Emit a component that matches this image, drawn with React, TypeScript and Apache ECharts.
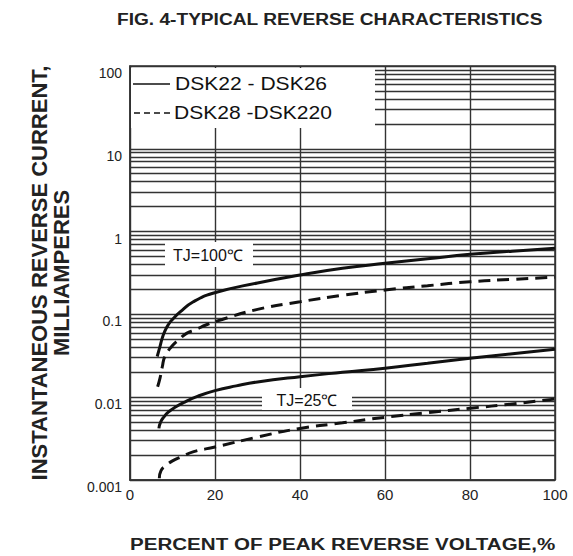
import React, { useEffect, useRef } from "react";
import * as echarts from "echarts";

const TITLE = "FIG. 4-TYPICAL REVERSE CHARACTERISTICS";
const X_NAME = "PERCENT OF PEAK REVERSE VOLTAGE,%";
const Y_NAME = "INSTANTANEOUS REVERSE CURRENT,\nMILLIAMPERES";
const LEGEND_SOLID = "DSK22 - DSK26";
const LEGEND_DASHED = "DSK28 -DSK220";
const LABEL_100 = "TJ=100℃";
const LABEL_25 = "TJ=25℃";

const SOLID_100_X = [6.4, 7.0, 7.6, 8.2, 9.0, 9.8, 11.8, 14.8, 19.5, 30, 40, 50, 60, 70, 80, 90, 100];
const SOLID_100_Y = [0.031, 0.04, 0.052, 0.063, 0.075, 0.085, 0.107, 0.141, 0.18, 0.24, 0.299, 0.36, 0.414, 0.47, 0.532, 0.58, 0.628];

const DASHED_100_X = [6.5, 7.06, 7.6, 8.2, 9.8, 11.4, 13.3, 15.3, 18, 20.4, 30, 40, 50, 60, 70, 80, 90, 100];
const DASHED_100_Y = [0.0134, 0.017, 0.0233, 0.031, 0.041, 0.049, 0.059, 0.065, 0.075, 0.083, 0.115, 0.142, 0.17, 0.197, 0.222, 0.248, 0.265, 0.281];

const SOLID_25_X = [6.8, 7.2, 8, 9, 10.5, 13, 16, 20, 25, 30, 40, 50, 60, 70, 80, 90, 100];
const SOLID_25_Y = [0.0042, 0.005, 0.0058, 0.0066, 0.0075, 0.0088, 0.0103, 0.012, 0.0137, 0.0153, 0.0177, 0.02, 0.0224, 0.0257, 0.0295, 0.0335, 0.0379];

const DASHED_25_X = [6.9, 7.3, 8.5, 10, 12, 15, 20, 30, 40, 50, 60, 70, 80, 90, 100];
const DASHED_25_Y = [0.00105, 0.0013, 0.0015, 0.0017, 0.0019, 0.0022, 0.0025, 0.0033, 0.0042, 0.0049, 0.00572, 0.0065, 0.00735, 0.0083, 0.0095];

const DECADES = [0.001, 0.01, 0.1, 1, 10];
const MINOR_STEPS = [2, 3, 4, 5, 6, 7, 8, 9];
const MINOR_GRID = DECADES.flatMap((d) => MINOR_STEPS.map((m) => +(d * m).toPrecision(3)));

const FONT = "'Liberation Sans', Arial, sans-serif";
const GRID_COLOR = "#333";

function pairs(xs: number[], ys: number[]) {
  return xs.map((x, i) => [x, ys[i]]);
}

export default function App() {
  const ref = useRef<HTMLDivElement>(null);
  useEffect(() => {
    if (!ref.current) return;
    const chart = echarts.init(ref.current, null, { renderer: "svg" });
    const curve = (name: string, data: number[][], dashed: boolean) => ({
      name,
      type: "line",
      data,
      showSymbol: false,
      smooth: 0.5,
      z: 5,
      silent: true,
      lineStyle: { color: "#111", width: 3, type: dashed ? [12, 7] : "solid" },
    });
    chart.setOption({
      animation: false,
      backgroundColor: "#fff",
      grid: {
        left: 130,
        right: 18,
        top: 66,
        bottom: 76,
        show: true,
        borderColor: GRID_COLOR,
        borderWidth: 1.5,
      },
      xAxis: {
        type: "value",
        min: 0,
        max: 100,
        interval: 20,
        axisLine: { show: true, lineStyle: { color: GRID_COLOR, width: 1.5 } },
        axisTick: { show: false },
        axisLabel: { fontFamily: FONT, fontSize: 15, color: "#222", margin: 7, verticalAlign: "top" },
        splitLine: { show: true, lineStyle: { color: GRID_COLOR, width: 1.4 } },
      },
      yAxis: {
        type: "log",
        logBase: 10,
        min: 0.001,
        max: 100,
        name: Y_NAME,
        nameLocation: "middle",
        nameRotate: 90,
        nameGap: 58,
        nameTextStyle: { fontFamily: FONT, fontSize: 22, fontWeight: "bold", color: "#222", lineHeight: 22, align: "center" },
        axisLine: { show: true, lineStyle: { color: GRID_COLOR, width: 1.5 } },
        axisTick: { show: false },
        axisLabel: {
          fontFamily: FONT,
          fontSize: 14,
          color: "#222",
          margin: 8,
          verticalAlign: "top",
          formatter: (v: number) => String(+v.toPrecision(3)),
        },
        splitLine: { show: true, lineStyle: { color: GRID_COLOR, width: 1.4 } },
      },
      series: [
        {
          name: "minor-grid",
          type: "line",
          data: [],
          z: 1,
          silent: true,
          markLine: {
            silent: true,
            symbol: "none",
            precision: 6,
            animation: false,
            label: { show: false },
            lineStyle: { color: GRID_COLOR, width: 1.4, type: "solid" },
            data: MINOR_GRID.map((v) => ({ yAxis: v })),
          },
        },
        curve(LEGEND_SOLID, pairs(SOLID_100_X, SOLID_100_Y), false),
        curve(LEGEND_DASHED, pairs(DASHED_100_X, DASHED_100_Y), true),
        curve(LEGEND_SOLID, pairs(SOLID_25_X, SOLID_25_Y), false),
        curve(LEGEND_DASHED, pairs(DASHED_25_X, DASHED_25_Y), true),
      ],
      graphic: [
        // title and x axis name
        { type: "text", z: 101, x: 117, y: 19, scaleX: 1.125, style: { text: TITLE, fontFamily: FONT, fontSize: 17, fontWeight: "bold", fill: "#222", align: "left", verticalAlign: "middle" } },
        { type: "text", z: 101, x: 130, y: 544, scaleX: 1.21, style: { text: X_NAME, fontFamily: FONT, fontSize: 17, fontWeight: "bold", fill: "#222", align: "left", verticalAlign: "middle" } },
        // legend box
        { type: "rect", z: 100, shape: { x: 131, y: 68, width: 244, height: 60 }, style: { fill: "#fff" } },
        { type: "line", z: 101, shape: { x1: 133, y1: 84, x2: 170, y2: 84 }, style: { stroke: "#111", lineWidth: 1.5 } },
        { type: "line", z: 101, shape: { x1: 134, y1: 113, x2: 172, y2: 113 }, style: { stroke: "#111", lineWidth: 1.5, lineDash: [6, 4] } },
        { type: "text", z: 101, x: 175, y: 84, scaleX: 1.17, style: { text: LEGEND_SOLID, fontFamily: FONT, fontSize: 18, fill: "#111", verticalAlign: "middle", align: "left" } },
        { type: "text", z: 101, x: 174, y: 113, scaleX: 1.17, style: { text: LEGEND_DASHED, fontFamily: FONT, fontSize: 18, fill: "#111", verticalAlign: "middle", align: "left" } },
        // TJ=100 label
        { type: "rect", z: 100, shape: { x: 165, y: 242, width: 88, height: 25 }, style: { fill: "#fff" } },
        { type: "text", z: 101, x: 208, y: 255, style: { text: LABEL_100, fontFamily: FONT, fontSize: 16, fill: "#111", align: "center", verticalAlign: "middle" } },
        // TJ=25 label
        { type: "rect", z: 100, shape: { x: 262, y: 388, width: 90, height: 22 }, style: { fill: "#fff" } },
        { type: "text", z: 101, x: 307, y: 400, style: { text: LABEL_25, fontFamily: FONT, fontSize: 16, fill: "#111", align: "center", verticalAlign: "middle" } },
      ],
    });
    return () => chart.dispose();
  }, []);
  return <div ref={ref} style={{ position: "absolute", left: 0, top: 0, width: 573, height: 556 }} />;
}
